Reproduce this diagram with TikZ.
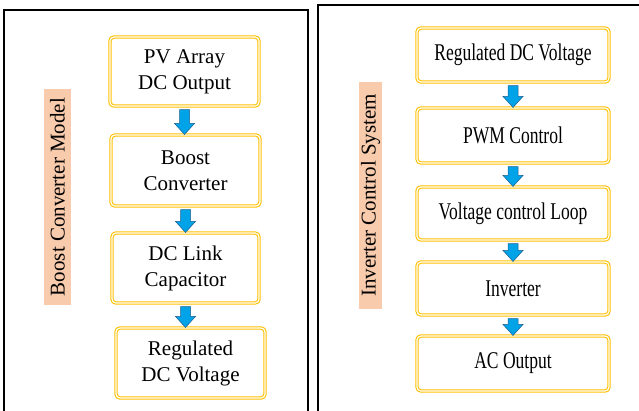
\documentclass[tikz,border=0pt]{standalone}
\usepackage{fontspec}
\setmainfont{Liberation Serif}
\newfontfamily\condfont{Liberation Serif}[FakeStretch=0.73]
\usetikzlibrary{calc}
\definecolor{gold}{HTML}{FFC000}
\definecolor{peach}{HTML}{F8CBAD}
\definecolor{arrfill}{HTML}{00A2E8}
\definecolor{arrline}{HTML}{1F5F8F}
\tikzset{
  panel/.style={draw=black, line width=2pt},
  lbox/.style={draw=gold, line width=1.1pt, double=white, double distance=1.2pt,
    rounded corners=4pt, align=center, inner sep=1pt,
    font=\fontsize{21}{26}\selectfont},
  rbox/.style={draw=gold, line width=1.1pt, double=white, double distance=1.2pt,
    rounded corners=4pt, align=center, inner sep=1pt,
    font=\condfont\fontsize{24}{28}\selectfont, minimum width=192pt},
  tag/.style={fill=peach, rotate=90, inner sep=0pt, font=\fontsize{21}{24}\selectfont},
  barrow/.style={fill=arrfill, draw=arrline, line width=0.5pt, line join=miter}
}
\newcommand\blockarrow[3]{%
  \draw[barrow, xshift=#3pt] let \p1=(#1.south), \p2=(#2.north) in
    (\x1-5pt,\y1-3pt) -- (\x1+5pt,\y1-3pt) -- (\x1+5pt,\y2+11pt) --
    (\x1+10pt,\y2+11pt) -- (\x1,\y2) -- (\x1-10pt,\y2+11pt) --
    (\x1-5pt,\y2+11pt) -- cycle;}
\begin{document}
\begin{tikzpicture}[x=1pt,y=-1pt]
\useasboundingbox (0,0) rectangle (639,410);
\clip (0,0) rectangle (639,410);
% panels
\draw[panel] (4,10) rectangle (308,430);
\draw[panel] (318,5) rectangle (660,430);
% tags
\node[tag, minimum width=216pt, minimum height=27pt] (tagl) at (57.5,197) {Boost Converter Model};
\node[tag, minimum width=227pt, minimum height=23pt] (tagr) at (370.5,195.5) {Inverter Control System};
% left chain
\node[lbox, minimum width=149pt, minimum height=69pt] (pv) at (184.5,71.5) {PV Array\\DC Output};
\node[lbox, minimum width=149pt, minimum height=71pt] (boost) at (185.5,170.5) {Boost\\Converter};
\node[lbox, minimum width=147pt, minimum height=70pt] (dcl) at (185.5,268) {DC Link\\Capacitor};
\node[lbox, minimum width=149pt, minimum height=70pt] (reg) at (190.5,363) {Regulated\\DC Voltage};
% right chain
\node[rbox, minimum height=54pt] (r1) at (513,55) {Regulated DC Voltage};
\node[rbox, minimum height=55pt] (r2) at (513,135.5) {PWM Control};
\node[rbox, minimum height=53pt] (r3) at (513,213.5) {Voltage control Loop};
\node[rbox, minimum height=53pt] (r4) at (513,288.5) {Inverter};
\node[rbox, minimum height=55pt] (r5) at (513,363.5) {AC Output};
% arrows
\blockarrow{pv}{boost}{1.5}
\blockarrow{boost}{dcl}{1}
\blockarrow{dcl}{reg}{2}
\blockarrow{r1}{r2}{-6}
\blockarrow{r2}{r3}{-6}
\blockarrow{r3}{r4}{-6}
\blockarrow{r4}{r5}{-6}
\end{tikzpicture}
\end{document}
